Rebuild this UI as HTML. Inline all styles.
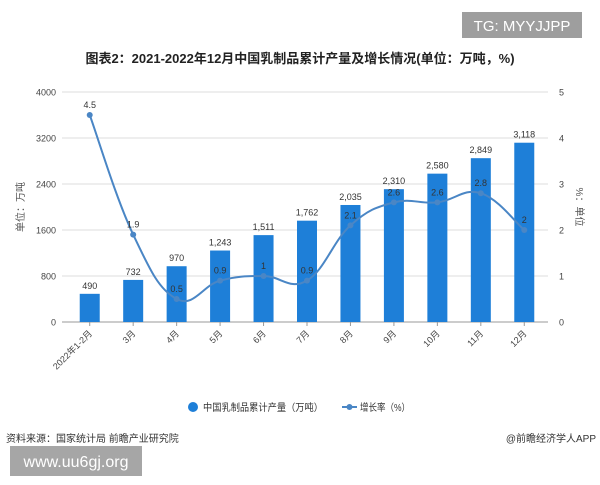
<!DOCTYPE html>
<html><head><meta charset="utf-8"><style>
body{margin:0;background:#fff;width:600px;height:480px;overflow:hidden;font-family:"Liberation Sans","Noto Sans CJK SC",sans-serif;}
</style></head><body>
<svg width="600" height="480" xmlns="http://www.w3.org/2000/svg">
<rect x="462" y="12" width="120" height="26" fill="#9e9e9e"/>
<text x="522" y="31" font-size="15" fill="#fff" text-anchor="middle">TG: MYYJJPP</text>
<text x="300" y="63" font-size="13" font-weight="bold" fill="#222" text-anchor="middle">图表2：2021-2022年12月中国乳制品累计产量及增长情况(单位：万吨，%)</text>
<g id="grid"></g><g id="bars"></g><g id="line"></g>
<text transform="translate(24,207) rotate(-90)" font-size="10" fill="#555" text-anchor="middle">单位：万吨</text>
<text transform="translate(576,207) rotate(90)" font-size="10" fill="#555" text-anchor="middle">%：单位</text>
<circle cx="193" cy="407" r="5" fill="#1e7fd8"/>
<text x="203" y="411" font-size="10" fill="#333" textLength="120" lengthAdjust="spacingAndGlyphs">中国乳制品累计产量（万吨）</text>
<line x1="342" y1="407" x2="357" y2="407" stroke="#4a86c5" stroke-width="2"/>
<circle cx="349.5" cy="407" r="3" fill="#4a86c5"/>
<text x="360" y="411" font-size="10" fill="#333" textLength="50" lengthAdjust="spacingAndGlyphs">增长率（%）</text>
<text x="6" y="442" font-size="10" fill="#333">资料来源：国家统计局 前瞻产业研究院</text>
<text x="596" y="442" font-size="10" fill="#333" text-anchor="end">@前瞻经济学人APP</text>
<rect x="10" y="446" width="132" height="30" fill="#a6a6a6"/>
<text x="76" y="467" font-size="16" fill="#fff" text-anchor="middle">www.uu6gj.org</text>
</svg>
<script>
const categories=["2022年1-2月","3月","4月","5月","6月","7月","8月","9月","10月","11月","12月"];
const production=[490,732,970,1243,1511,1762,2035,2310,2580,2849,3118];
const growth=[4.5,1.9,0.5,0.9,1,0.9,2.1,2.6,2.6,2.8,2];
const leftTicks=[0,800,1600,2400,3200,4000];
const rightTicks=[0,1,2,3,4,5];
const NS="http://www.w3.org/2000/svg";
const x0=68,x1=546,yTop=92,yBot=322;
const band=(x1-x0)/categories.length;
const xc=i=>x0+band*(i+0.5);
const yL=v=>yBot-v/4000*(yBot-yTop);
const yR=v=>yBot-v/5*(yBot-yTop);
function mk(tag,attrs,parent,txt){const e=document.createElementNS(NS,tag);for(const k in attrs)e.setAttribute(k,attrs[k]);if(txt!=null)e.textContent=txt;parent.appendChild(e);return e;}
const grid=document.getElementById('grid'),bars=document.getElementById('bars'),lineG=document.getElementById('line');
leftTicks.forEach((t,i)=>{
 const y=yL(t);
 const l=mk('line',{x1:62,x2:548,y1:y,y2:y,stroke:i==0?'#999':'#ddd','stroke-width':1},grid);
 
 
 const tx=mk('text',{x:56,y:y+3.5,'font-size':9,fill:'#444','text-anchor':'end'},grid,t);
 
 
});
rightTicks.forEach(t=>{
 const tx=mk('text',{x:559,y:yR(t)+3.5,'font-size':9,fill:'#444'},grid,t);
 
 
});
categories.forEach((c,i)=>{
 const x=xc(i);
 const tk=mk('line',{x1:x,x2:x,y1:yBot,y2:yBot+4,stroke:'#999'},grid);
 
 
 const tx=mk('text',{transform:`translate(${x+3},${yBot+12}) rotate(-45)`,'font-size':9,fill:'#444','text-anchor':'end'},grid,c);
 
 
 const v=production[i],w=20;
 const b=mk('rect',{x:x-w/2,y:yL(v),width:w,height:yBot-yL(v),fill:'#1e7fd8'},bars);
 
 
 const lb=mk('text',{x:x,y:yL(v)-5,'font-size':9,fill:'#333','text-anchor':'middle'},bars,v.toLocaleString('en-US'));
 
 
});
const pts=growth.map((g,i)=>[xc(i),yR(g)]);
let d=`M${pts[0][0]},${pts[0][1]}`;
for(let i=0;i<pts.length-1;i++){
 const p0=pts[Math.max(0,i-1)],p1=pts[i],p2=pts[i+1],p3=pts[Math.min(pts.length-1,i+2)];
 const t=0.2;
 d+=` C${p1[0]+(p2[0]-p0[0])*t},${p1[1]+(p2[1]-p0[1])*t} ${p2[0]-(p3[0]-p1[0])*t},${p2[1]-(p3[1]-p1[1])*t} ${p2[0]},${p2[1]}`;
}
const path=mk('path',{d:d,fill:'none',stroke:'#4a86c5','stroke-width':2},lineG);


pts.forEach((p,i)=>{
 const c=mk('circle',{cx:p[0],cy:p[1],r:3,fill:'#4a86c5'},lineG);
 
 
 const t=mk('text',{x:p[0],y:p[1]-7,'font-size':9,fill:'#333','text-anchor':'middle'},lineG,growth[i]);
 
 
});
</script>
</body></html>
